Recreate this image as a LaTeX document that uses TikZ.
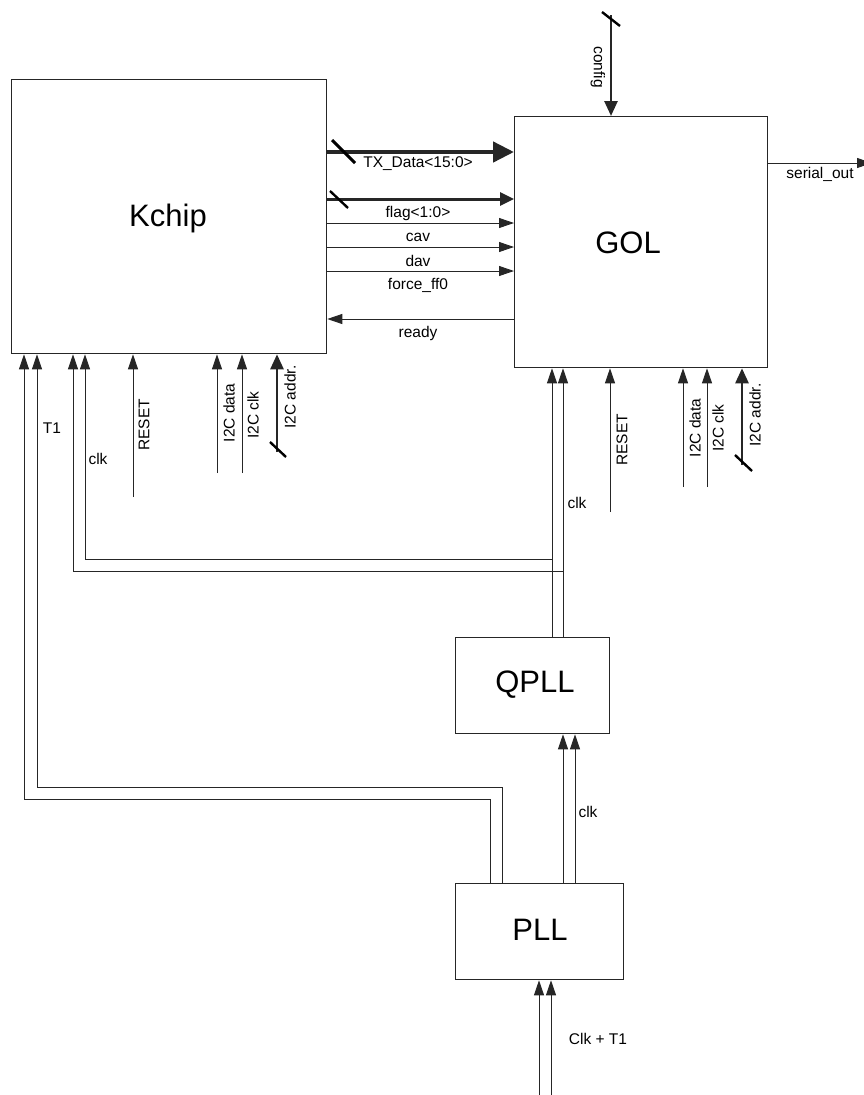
\documentclass[tikz,border=0pt]{standalone}
\usepackage{fontspec}
\setmainfont{Liberation Sans}
\usetikzlibrary{arrows.meta}
\begin{document}
\begin{tikzpicture}[x=1pt,y=-1pt,
 box/.style={draw=black!85, line width=1.3pt, inner sep=0pt},
 sig/.style={line width=0.9pt, draw=black!85},
 arr/.style={-{Triangle[length=15pt,width=10pt]}},
 barr/.style={line width=2.6pt,-{Triangle[length=15pt,width=13pt]}},
 slash/.style={line width=2.4pt, draw=black},
 lbl/.style={font=\fontsize{15.5}{18}\selectfont, inner sep=0pt},
 big/.style={font=\fontsize{31}{36}\selectfont, inner sep=0pt}]
\useasboundingbox (0,0) rectangle (864,1095);
% blocks
\node[box, anchor=north west, minimum width=315pt, minimum height=274pt] (kchip) at (11,79) {};
\node[big] (kchiptext) at (168,218) {Kchip};
\node[box, anchor=north west, minimum width=253pt, minimum height=251pt] (gol) at (514,116) {};
\node[big] (goltext) at (628,243) {GOL};
\node[box, anchor=north west, minimum width=154pt, minimum height=96pt] (qpll) at (455,637) {};
\node[big] (qplltext) at (535,685) {QPLL};
\node[box, anchor=north west, minimum width=168pt, minimum height=96pt] (pll) at (455,883) {};
\node[big] (plltext) at (540,930) {PLL};
% Kchip -> GOL signals
\draw[sig, line width=4.5pt, -{Triangle[length=21pt,width=20pt]}] (kchip.east |- 0,152) -- (gol.west |- 0,152);
\draw[slash, line width=3pt] (332,140) -- (355,163);
\node[lbl] (txl) at (418,164) {TX\_Data<15:0>};
\draw[sig, line width=3pt, -{Triangle[length=14pt,width=13pt]}] (kchip.east |- 0,199) -- (gol.west |- 0,199);
\draw[slash] (330,191) -- (348,208);
\node[lbl] (flagl) at (418,213) {flag<1:0>};
\draw[sig,arr] (kchip.east |- 0,223) -- (gol.west |- 0,223);
\node[lbl] (cavl) at (418,237) {cav};
\draw[sig,arr] (kchip.east |- 0,247) -- (gol.west |- 0,247);
\node[lbl] (davl) at (418,261) {dav};
\draw[sig,arr] (kchip.east |- 0,271) -- (gol.west |- 0,271);
\node[lbl] (ffl) at (418,285) {force\_ff0};
\draw[sig,arr] (gol.west |- 0,319) -- (kchip.east |- 0,319);
\node[lbl] (readyl) at (418,333) {ready};
% config
\coordinate (cfg) at (611,15);
\draw[sig,barr] (cfg) -- (gol.north -| cfg);
\draw[slash] (602,12) -- (620,26);
\node[lbl, rotate=-90] (cfgl) at (598,67) {config};
% serial out
\coordinate (sout) at (872,163);
\draw[sig,arr] (gol.east |- sout) -- (sout);
\node[lbl] (soutl) at (820,174) {serial\_out};
% Kchip bottom inputs
\draw[sig,arr] (pll.north -| 490,0) -- (490,799) -- (24,799) -- (kchip.south -| 24,0);
\draw[sig,arr] (pll.north -| 502,0) -- (502,787) -- (37,787) -- (kchip.south -| 37,0);
\node[lbl] (t1l) at (52,428) {T1};
\draw[sig,arr] (qpll.north -| 552,0) -- (552,559) -- (85,559) -- (kchip.south -| 85,0);
\draw[sig,arr] (qpll.north -| 563,0) -- (563,571) -- (73,571) -- (kchip.south -| 73,0);
\node[lbl] (kclkl) at (98,459) {clk};
\coordinate (krst) at (133,497);
\draw[sig,arr] (krst) -- (kchip.south -| krst);
\node[lbl, rotate=90] (krstl) at (144,425) {RESET};
\coordinate (kdat) at (217,473);
\draw[sig,arr] (kdat) -- (kchip.south -| kdat);
\node[lbl, rotate=90] (kdatl) at (229,413) {I2C data};
\coordinate (kclk) at (242,473);
\draw[sig,arr] (kclk) -- (kchip.south -| kclk);
\node[lbl, rotate=90] (kclkl2) at (253,415) {I2C clk};
\coordinate (kadr) at (277,452);
\draw[sig,barr] (kadr) -- (kchip.south -| kadr);
\draw[slash] (270,442) -- (286,457);
\node[lbl, rotate=90] (kadrl) at (290,397) {I2C addr.};
% GOL bottom inputs
\draw[sig,arr] (qpll.north -| 552,0) -- (gol.south -| 552,0);
\draw[sig,arr] (qpll.north -| 563,0) -- (gol.south -| 563,0);
\node[lbl] (gclkl) at (577,503) {clk};
\coordinate (grst) at (610,512);
\draw[sig,arr] (grst) -- (gol.south -| grst);
\node[lbl, rotate=90] (grstl) at (622,440) {RESET};
\coordinate (gdat) at (683,487);
\draw[sig,arr] (gdat) -- (gol.south -| gdat);
\node[lbl, rotate=90] (gdatl) at (695,428) {I2C data};
\coordinate (gclk) at (707,487);
\draw[sig,arr] (gclk) -- (gol.south -| gclk);
\node[lbl, rotate=90] (gclkl2) at (718,428) {I2C clk};
\coordinate (gadr) at (742,465);
\draw[sig,barr] (gadr) -- (gol.south -| gadr);
\draw[slash] (735,455) -- (752,471);
\node[lbl, rotate=90] (gadrl) at (755,415) {I2C addr.};
% PLL -> QPLL
\draw[sig,arr] (pll.north -| 563,0) -- (qpll.south -| 563,0);
\draw[sig,arr] (pll.north -| 575,0) -- (qpll.south -| 575,0);
\node[lbl] (qclkl) at (588,812) {clk};
% PLL input
\coordinate (in1) at (539,1096);
\coordinate (in2) at (551,1096);
\draw[sig,arr] (in1) -- (pll.south -| in1);
\draw[sig,arr] (in2) -- (pll.south -| in2);
\node[lbl] (inl) at (598,1039) {Clk + T1};
\end{tikzpicture}
\end{document}
